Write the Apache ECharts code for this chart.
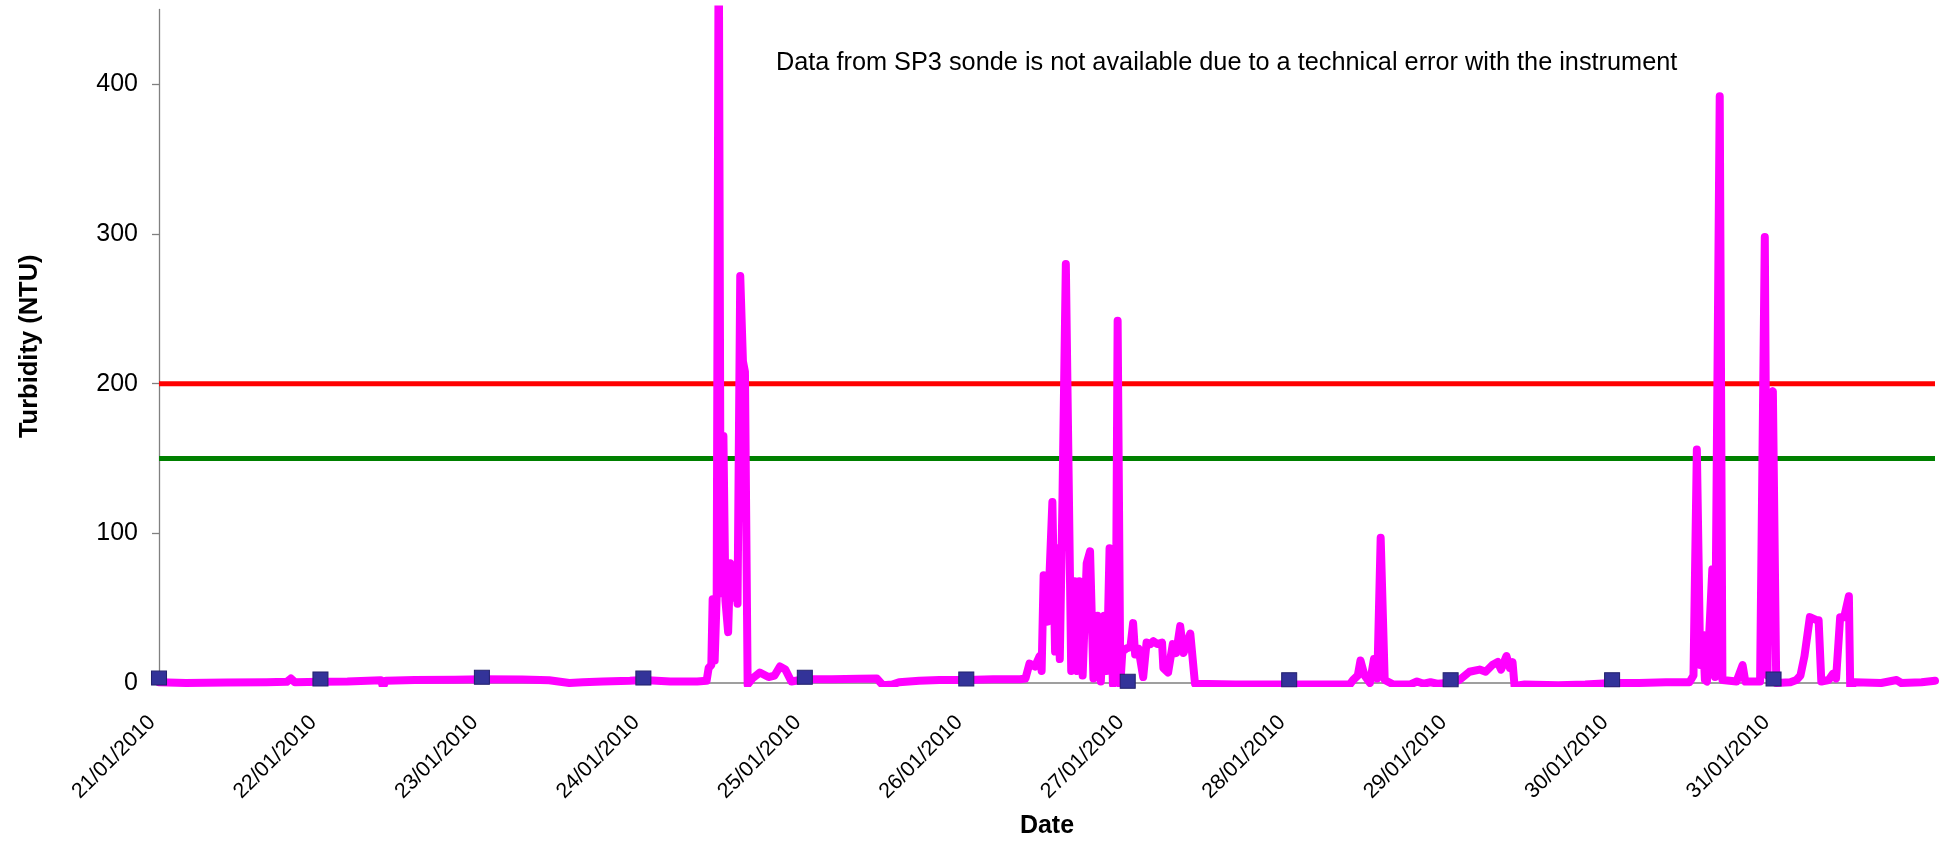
<!DOCTYPE html>
<html>
<head>
<meta charset="utf-8">
<script src="https://cdn.jsdelivr.net/npm/echarts@6/dist/echarts.min.js"></script>
<style>
html,body{margin:0;padding:0;background:#fff;}
#chart{width:1948px;height:844px;}
</style>
</head>
<body>
<div id="chart"></div>
<script>
// Hours since 21/01/2010 00:00
const dateLabels = ['21/01/2010','22/01/2010','23/01/2010','24/01/2010','25/01/2010','26/01/2010','27/01/2010','28/01/2010','29/01/2010','30/01/2010','31/01/2010'];
const tickHours = [0,24,48,72,96,120,144,168,192,216,240];
const yTicks = [0,100,200,300,400];

const turbidityHours = [
  0,4,10,16,19,19.6,20.2,24,28,31,33,33.3,33.7,38,44,48,54,58,61,63,66,70,72,76,80,
  81.4,81.7,82.1,82.3,82.6,82.9,83.2,83.5,83.9,84.2,84.6,84.9,85.3,85.7,86.0,86.4,86.8,87.1,87.5,
  88.2,89.3,90.6,91.5,92.3,93.1,94.0,96,100,104,106.7,107.6,109,110,113,116,120,124,128,
  128.8,129.4,130.2,130.9,131.2,131.5,132.1,132.8,133.2,133.6,133.9,134.3,134.8,135.6,136.1,136.5,136.8,137.3,137.9,138.4,138.9,
  139.5,140.0,140.5,140.9,141.3,141.8,142.2,142.5,142.9,143.2,143.8,144.4,144.8,145.1,145.6,146.3,146.8,147.4,147.8,148.4,149.1,149.3,
  150.0,150.7,151.2,151.8,152.3,153.3,154.0,160,170,177.0,
  177.5,178.2,178.6,178.9,179.2,180.0,180.6,181.1,181.6,182.2,183.5,186,187,188,189,190,191.5,
  193.3,194.8,196.3,197.2,198.2,199.0,199.5,200.3,200.8,201.2,201.5,203,208,212,216,220,224,227.5,
  228.1,228.6,229.1,229.5,229.8,230.1,230.9,231.3,232.0,232.4,234.5,235.4,235.8,238.0,238.7,239.1,239.5,239.9,240.4,
  242.5,243.4,244.0,244.6,245.4,246.4,246.7,247.1,248.2,248.8,249.3,249.9,250.5,251.2,251.4,252.0,256,258.3,259,262,264
];
const turbidityValues = [
  0.5,0,0.3,0.5,0.8,3,0.5,0.8,1,1.5,1.8,-2.5,1.5,2,2.2,2.5,2.3,1.8,0,0.5,1,1.5,2,1,1,
  1.5,10,12,56,15,58,520,60,165,55,34,80,57,75,53,272,215,208,-1,
  3,7,4,5,11,9,1,2.5,2.5,2.8,3,-1.5,-1,0.5,1.5,2,2,2.5,2.5,
  3,13,11,18,8,72,41,121,21,90,16,123,280,8,68,8,68,5,80,88,3,
  45,1,45,8,90,-1,5,242,-1,21,23,24,40,19,23,4,27,26,28,26,27,10,
  7,26,20,38,20,33,-0.5,-1,-1,-1,
  2,5,15,10,5,0,16,3,97,2,-1,-1,1,-0.5,0.5,-0.5,0,
  2,7.5,9,7.5,12,14,9,18,10,14,-2,-1,-1.5,-1,0,0,0.5,0.5,
  5,156,12,32,2,1,76,4,392,2,1,12,1,1,298,5,190,195,0,
  0.5,2,5,18,44,42,42,1,2,6,3,44,44,58,-4,0.5,0,2,0,0.5,1.5
];

const sampleHours = [0,24,48,72,96,120,144,168,192,216,240];
const sampleValues = [3.3,2.7,3.8,3.3,3.8,2.7,1.1,2.2,2.2,2.2,2.7];

const redLimit = 200;
const greenLimit = 150;
const xMin = 0, xMax = 264;

const FONT = '"Liberation Sans", Arial, sans-serif';

const chart = echarts.init(document.getElementById('chart'), null, {renderer: 'canvas'});

const lineData = turbidityHours.map((h, i) => [h, turbidityValues[i]]);
const sampleData = sampleHours.map((h, i) => [h, sampleValues[i]]);

chart.setOption({
  animation: false,
  backgroundColor: '#ffffff',
  grid: {left: 159, right: 13, top: 9.5, bottom: 159.5, containLabel: false},
  xAxis: {
    type: 'value',
    min: xMin,
    max: xMax,
    name: 'Date',
    nameLocation: 'middle',
    nameGap: 131,
    nameTextStyle: {fontFamily: FONT, fontSize: 25, fontWeight: 'bold', color: '#000', verticalAlign: 'top'},
    splitLine: {show: false},
    axisLine: {show: true, onZero: true, lineStyle: {color: '#808080', width: 1.5}},
    axisTick: {show: false},
    axisLabel: {
      customValues: tickHours,
      rotate: 45,
      margin: 29,
      padding: [0, 10, 0, 0],
      fontFamily: FONT,
      fontSize: 21.5,
      color: '#000',
      formatter: function (v) { return dateLabels[Math.round(v / 24)] || ''; }
    }
  },
  yAxis: {
    type: 'value',
    min: 0,
    max: 450,
    name: 'Turbidity (NTU)',
    nameLocation: 'middle',
    nameGap: 116,
    nameTextStyle: {fontFamily: FONT, fontSize: 25.5, fontWeight: 'bold', color: '#000'},
    splitLine: {show: false},
    axisLine: {show: true, lineStyle: {color: '#808080', width: 1.3}},
    axisTick: {show: true, length: 7, customValues: yTicks, lineStyle: {color: '#808080', width: 1.3}},
    axisLabel: {customValues: yTicks, margin: 21, fontFamily: FONT, fontSize: 25, color: '#000'}
  },
  series: [
    {
      type: 'line',
      data: [[xMin, redLimit], [xMax, redLimit]],
      symbol: 'none',
      lineStyle: {color: '#FF0000', width: 5},
      z: 1,
      silent: true
    },
    {
      type: 'line',
      data: [[xMin, greenLimit], [xMax, greenLimit]],
      symbol: 'none',
      lineStyle: {color: '#008000', width: 5},
      z: 1,
      silent: true
    },
    {
      type: 'line',
      data: lineData,
      symbol: 'none',
      clip: true,
      lineStyle: {color: '#FF00FF', width: 8, join: 'round', cap: 'round'},
      z: 3
    },
    {
      type: 'scatter',
      data: sampleData,
      symbol: 'rect',
      symbolSize: [15, 14],
      itemStyle: {color: '#333399', borderColor: '#22226e', borderWidth: 1, opacity: 1},
      z: 4
    }
  ],
  graphic: [
    {
      type: 'text',
      left: 776,
      top: 51,
      style: {
        text: 'Data from SP3 sonde is not available due to a technical error with the instrument',
        fontFamily: FONT,
        fontSize: 25.3,
        fill: '#000'
      }
    }
  ]
});
</script>
</body>
</html>
